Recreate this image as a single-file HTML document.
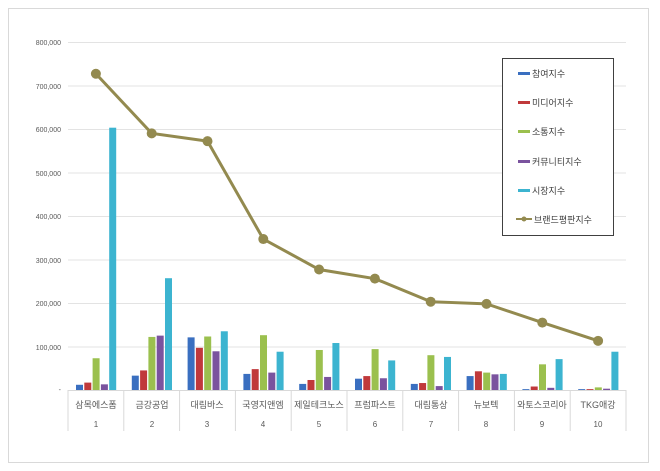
<!DOCTYPE html>
<html><head><meta charset="utf-8"><style>
html,body{margin:0;padding:0;background:#fff;}
svg{display:block;font-family:"Liberation Sans","Noto Sans CJK KR",sans-serif;}
</style></head><body>
<svg id="c" width="660" height="471" viewBox="0 0 660 471" xmlns="http://www.w3.org/2000/svg">
<rect x="0" y="0" width="660" height="471" fill="#fff"/>
<rect x="8.5" y="8.5" width="640" height="454" fill="#fff" stroke="#d9d9d9"/>
<g stroke="#e3e3e3" stroke-width="1">
<line x1="68" y1="42.5" x2="626" y2="42.5"/><line x1="68" y1="86" x2="626" y2="86"/>
<line x1="68" y1="129.5" x2="626" y2="129.5"/><line x1="68" y1="173" x2="626" y2="173"/>
<line x1="68" y1="216.5" x2="626" y2="216.5"/><line x1="68" y1="260" x2="626" y2="260"/>
<line x1="68" y1="303.5" x2="626" y2="303.5"/><line x1="68" y1="347" x2="626" y2="347"/>
</g>
<g font-size="7" fill="#595959" text-anchor="end">
<text x="61" y="45">800,000</text><text x="61" y="89">700,000</text><text x="61" y="132">600,000</text>
<text x="61" y="176">500,000</text><text x="61" y="219">400,000</text><text x="61" y="263">300,000</text>
<text x="61" y="306">200,000</text><text x="61" y="350">100,000</text><text x="61" y="392">-</text>
</g>
<g id="bars"></g>
<line x1="68" y1="390.5" x2="626" y2="390.5" stroke="#d9d9d9"/>
<g id="seps" stroke="#d9d9d9"></g>
<g font-size="9" fill="#595959" text-anchor="middle">
<text x="96" y="408">삼목에스폼</text><text x="152" y="408">금강공업</text><text x="207" y="408">대림바스</text>
<text x="263" y="408">국영지앤엠</text><text x="319" y="408">제일테크노스</text><text x="375" y="408">프럼파스트</text>
<text x="431" y="408">대림통상</text><text x="486" y="408">뉴보텍</text><text x="542" y="408">와토스코리아</text>
<text x="598" y="408">TKG애강</text>
</g>
<g font-size="8" fill="#595959" text-anchor="middle">
<text x="96" y="427">1</text><text x="152" y="427">2</text><text x="207" y="427">3</text><text x="263" y="427">4</text>
<text x="319" y="427">5</text><text x="375" y="427">6</text><text x="431" y="427">7</text><text x="486" y="427">8</text>
<text x="542" y="427">9</text><text x="598" y="427">10</text>
</g>
<g id="line"></g>
<rect x="502.5" y="58.5" width="111" height="177" fill="#fff" stroke="#404040"/>
<g font-size="9" fill="#404040">
<rect x="518" y="72" width="12" height="3" fill="#3a6fc0"/><text x="532" y="77">참여지수</text>
<rect x="518" y="101" width="12" height="3" fill="#c0393b"/><text x="532" y="106">미디어지수</text>
<rect x="518" y="130" width="12" height="3" fill="#9bc04e"/><text x="532" y="135">소통지수</text>
<rect x="518" y="160" width="12" height="3" fill="#7a539e"/><text x="532" y="165">커뮤니티지수</text>
<rect x="518" y="189" width="12" height="3" fill="#3cb4d0"/><text x="532" y="194">시장지수</text>
<line x1="516" y1="219" x2="532" y2="219" stroke="#938a4f" stroke-width="2"/><circle cx="524" cy="219" r="2.5" fill="#938a4f"/><text x="534" y="223">브랜드평판지수</text>
</g>
</svg>
<script>
var d=[[12,17,73,13,603,727],[33,45,122,125,257,590],[121,97,123,89,135,572],[37,48,126,40,88,347],[14,23,92,30,108,277],[26,32,94,27,68,256],[14,16,80,9,76,203],[32,43,40,36,37,198],[2,8,59,5,71,155],[2,2,6,3,88,113]];
var cols=["#3a6fc0","#c0393b","#9bc04e","#7a539e","#3cb4d0"];
var ns="http://www.w3.org/2000/svg",w=55.8,y0=390,k=43.5/100;
function el(t,a,p){var e=document.createElementNS(ns,t);for(var i in a)e.setAttribute(i,a[i]);document.getElementById(p).appendChild(e);}
var pts=[];
for(var i=0;i<10;i++){var L=68+w*i;
 for(var j=0;j<5;j++){var h=d[i][j]*k;el("rect",{x:L+8+j*8.3,y:y0-h,width:7,height:h,fill:cols[j]},"bars");}
 pts.push((L+w/2)+","+(y0-d[i][5]*k));
}
for(var i=0;i<=10;i++){var x=68+w*i;el("line",{x1:x,y1:390,x2:x,y2:431},"seps");}
el("polyline",{points:pts.join(" "),fill:"none",stroke:"#938a4f","stroke-width":3},"line");
pts.forEach(function(p){var a=p.split(",");el("circle",{cx:a[0],cy:a[1],r:5,fill:"#938a4f"},"line");});
</script>
</body></html>
